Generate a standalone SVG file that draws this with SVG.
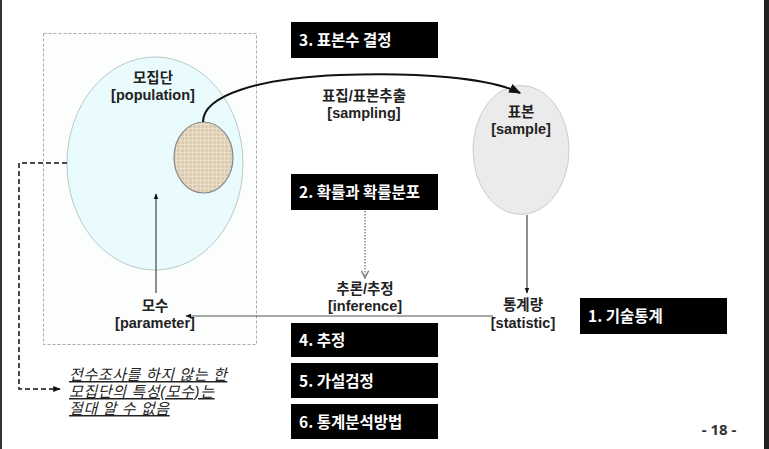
<svg xmlns="http://www.w3.org/2000/svg" width="769" height="449" viewBox="0 0 769 449">
<style>
.lbl{font-family:"Liberation Sans","Noto Sans CJK KR",sans-serif;font-size:14.5px;font-weight:bold;fill:#222;text-anchor:middle}
.box{fill:#000}
.bt{font-family:"Noto Sans CJK KR","Noto Sans",sans-serif;font-size:15.5px;font-weight:bold;fill:#fff}
.note{font-family:"Liberation Sans","Noto Sans CJK KR",sans-serif;font-size:15px;letter-spacing:0.6px;font-style:italic;fill:#222;text-decoration:underline}
</style>
<defs>
<pattern id="linen" width="4" height="4" patternUnits="userSpaceOnUse">
<rect width="4" height="4" fill="#dccbb1"/>
<path d="M0 0.5H4M0.5 0V4" stroke="#eee3d2" stroke-width="0.8"/>
</pattern>
<marker id="ah" viewBox="0 0 10 10" refX="9" refY="5" markerWidth="6" markerHeight="6" orient="auto">
<path d="M0 1L10 5L0 9z" fill="#111"/>
</marker>
<marker id="ahs" viewBox="0 0 10 10" refX="9" refY="5" markerWidth="5" markerHeight="5" orient="auto">
<path d="M0 1L10 5L0 9z" fill="#111"/>
</marker>
<marker id="ahg" viewBox="0 0 10 10" refX="9" refY="5" markerWidth="6" markerHeight="6" orient="auto">
<path d="M1 1L9 5L1 9" fill="none" stroke="#777" stroke-width="1.5"/>
</marker>
</defs>
<rect width="769" height="449" fill="#fff"/>
<rect x="0" y="0" width="2" height="449" fill="#333"/>
<rect x="764" y="0" width="5" height="449" fill="#222"/>

<g id="frame">
<rect x="43.5" y="33.5" width="213" height="311" fill="#fcfdfd" stroke="#aaa" stroke-dasharray="3,2"/>
</g>
<g id="population">
<ellipse cx="155" cy="163.5" rx="88" ry="106.5" fill="#eafbfd" stroke="#b9c9c9" stroke-width="1"/>
<text class="lbl" x="153" y="83">모집단<tspan x="153" dy="16.5">[population]</tspan></text>
</g>
<g id="subset">
<ellipse cx="203.5" cy="157.5" rx="29.5" ry="35.5" fill="url(#linen)" stroke="#888" stroke-width="1.2"/>
</g>
<g id="sample">
<ellipse cx="521" cy="150" rx="48" ry="64.5" fill="#ebebeb" stroke="#ccc" stroke-width="1"/>
<text class="lbl" x="521" y="117">표본<tspan x="521" dy="17">[sample]</tspan></text>
</g>
<g id="labels">
<text class="lbl" x="364" y="101">표집/표본추출<tspan x="364" dy="16.5">[sampling]</tspan></text>
<text class="lbl" x="365" y="294">추론/추정<tspan x="365" dy="16.5">[inference]</tspan></text>
<text class="lbl" x="523" y="310">통계량<tspan x="523" dy="18">[statistic]</tspan></text>
<text class="lbl" x="155" y="311">모수<tspan x="155" dy="17">[parameter]</tspan></text>
</g>
<g id="box3"><rect class="box" x="291" y="22" width="147" height="36"/><text class="bt" x="299" y="46">3. 표본수 결정</text></g>
<g id="box2"><rect class="box" x="291" y="174" width="147" height="36"/><text class="bt" x="299" y="198">2. 확률과 확률분포</text></g>
<g id="box1"><rect class="box" x="580" y="298" width="147" height="36"/><text class="bt" x="588" y="322">1. 기술통계</text></g>
<g id="box4"><rect class="box" x="291" y="323" width="147" height="34"/><text class="bt" x="299" y="346">4. 추정</text></g>
<g id="box5"><rect class="box" x="291" y="363" width="147" height="35"/><text class="bt" x="299" y="387">5. 가설검정</text></g>
<g id="box6"><rect class="box" x="291" y="404" width="147" height="35"/><text class="bt" x="299" y="428">6. 통계분석방법</text></g>

<g id="connectors" fill="none">
<path d="M203 122C203 95 260 78 340 75C420 72 490 78 520 93" stroke="#111" stroke-width="2" marker-end="url(#ah)"/>
<path d="M527 215V293" stroke="#444" stroke-width="1.2" marker-end="url(#ahs)"/>
<path d="M493 316H186" stroke="#555" stroke-width="1.2" marker-end="url(#ahs)"/>
<path d="M156 293V194" stroke="#444" stroke-width="1.2" marker-end="url(#ahs)"/>
<path d="M365 211V278" stroke="#888" stroke-width="1.5" stroke-dasharray="1.5,1.5" marker-end="url(#ahg)"/>
<path d="M67 163H19V389H60" stroke="#111" stroke-width="1.5" stroke-dasharray="5,3" marker-end="url(#ahs)"/>
</g>
<g id="note">
<text class="note" x="69" y="380">전수조사를 하지 않는 한<tspan x="69" dy="17">모집단의 특성(모수)는</tspan><tspan x="69" dy="17">절대 알 수 없음</tspan></text>
</g>
<text x="719" y="435" style="font-family:'Noto Sans','Liberation Sans',sans-serif;font-size:15px;font-weight:bold;fill:#333;text-anchor:middle">- 18 -</text>
</svg>
